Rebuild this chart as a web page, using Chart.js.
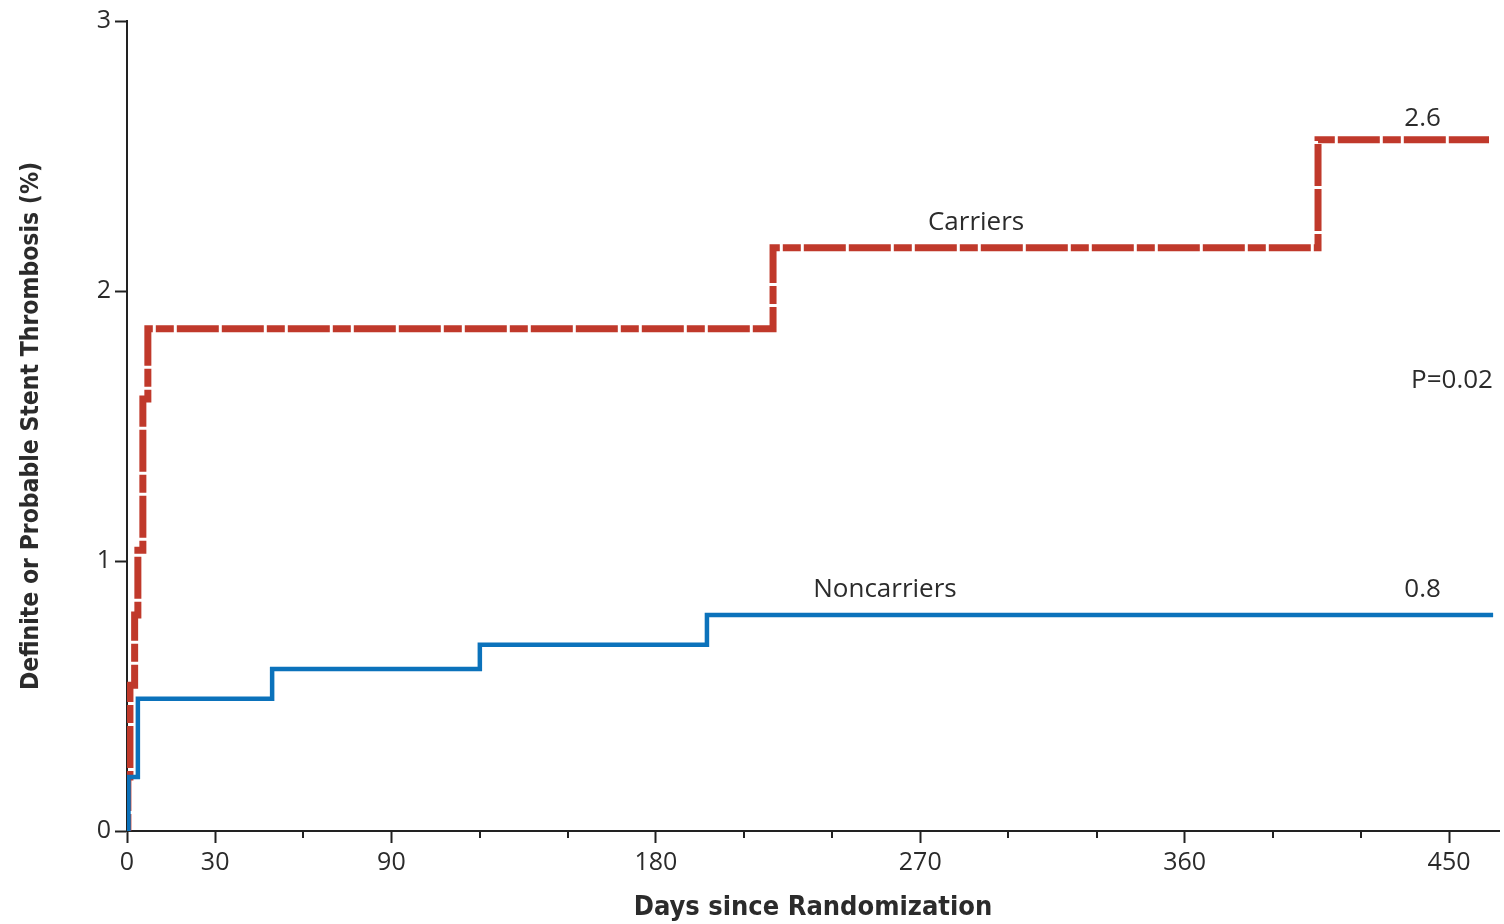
<!DOCTYPE html>
<html>
<head>
<meta charset="utf-8">
<title>Stent thrombosis by carrier status</title>
<script src="https://cdn.jsdelivr.net/npm/chart.js@4.4.1/dist/chart.umd.min.js"></script>
<style>
    html, body { margin: 0; padding: 0; background: #fff; }
    #wrap { width: 1504px; height: 924px; position: relative; }
</style>
</head>
<body>
<div id="wrap"><canvas id="graphStentThrombosis"></canvas></div>
<script>
// cumulative event rate (%), each point is the day a step happens and the new level
var carrierDays = [0, 0.3, 1, 2.6, 3.7, 5.4, 7.1, 219.9, 405.4, 463.6];
var carrierRates = [0, 0.2, 0.54, 0.8, 1.04, 1.6, 1.86, 2.16, 2.56, 2.56];
var noncarrierDays = [0, 0.5, 3.7, 49.4, 120.1, 197.4, 465];
var noncarrierRates = [0, 0.2, 0.49, 0.6, 0.69, 0.8, 0.8];

var dayTicks = [0, 30, 90, 180, 270, 360, 450];
var minorDayTicks = [60, 120, 150, 210, 240, 300, 330, 390, 420];
var rateTicks = [0, 1, 2, 3];

var axisColor = '#222';
var textColor = '#2b2b2b';
var carrierColor = '#c0392b';
var noncarrierColor = '#0b72bb';

function toPoints(days, rates) {
    return days.map(function (d, i) { return {x: d, y: rates[i]}; });
}

var lastCarrier = carrierRates[carrierRates.length - 1];
var lastNoncarrier = noncarrierRates[noncarrierRates.length - 1];

// text placed next to the curves, anchored on data values
var notes = [
    {text: 'Carriers', day: 289, rate: carrierRates[7], dy: -12},
    {text: 'Noncarriers', day: 258, rate: noncarrierRates[5], dy: -12},
    {text: lastCarrier.toFixed(1), day: 441, rate: lastCarrier, dy: -8},
    {text: lastNoncarrier.toFixed(1), day: 441, rate: lastNoncarrier, dy: -12},
    {text: 'P=0.02', day: 451, rate: 1.62, dy: 0}
];

var extras = {
    id: 'extras',
    afterDraw: function (chart) {
        var ctx = chart.ctx;
        var x = chart.scales.x;
        var y = chart.scales.y;
        ctx.save();
        // short unlabeled ticks every 30 days
        ctx.strokeStyle = axisColor;
        ctx.lineWidth = 2;
        minorDayTicks.forEach(function (d) {
            var px = Math.round(x.getPixelForValue(d));
            ctx.beginPath();
            ctx.moveTo(px, chart.chartArea.bottom);
            ctx.lineTo(px, chart.chartArea.bottom + 7);
            ctx.stroke();
        });
        ctx.fillStyle = textColor;
        ctx.font = '26px "Open Sans", "Noto Sans", sans-serif';
        ctx.textAlign = 'center';
        ctx.textBaseline = 'bottom';
        notes.forEach(function (n) {
            ctx.fillText(n.text, x.getPixelForValue(n.day), y.getPixelForValue(n.rate) + n.dy);
        });
        ctx.restore();
    }
};

var graphStentThrombosis = document.getElementById('graphStentThrombosis').getContext('2d');
new Chart(graphStentThrombosis, {
    type: 'line',
    data: {
        datasets: [
            {
                label: 'Noncarriers',
                data: toPoints(noncarrierDays, noncarrierRates),
                stepped: true,
                borderColor: noncarrierColor,
                borderWidth: 4.5,
                pointRadius: 0,
                fill: false
            },
            {
                label: 'Carriers',
                data: toPoints(carrierDays, carrierRates),
                stepped: true,
                borderColor: carrierColor,
                borderWidth: 7,
                borderDash: [18, 3, 42, 3, 42, 3, 18, 3, 42, 3],
                borderJoinStyle: 'miter',
                pointRadius: 0,
                fill: false
            }
        ]
    },
    options: {
        responsive: true,
        maintainAspectRatio: false,
        animation: false,
        layout: {
            padding: {left: 0, right: 5, top: 21, bottom: 0}
        },
        plugins: {
            legend: {display: false},
            tooltip: {enabled: false}
        },
        scales: {
            x: {
                type: 'linear',
                min: 0,
                max: 467,
                afterBuildTicks: function (scale) {
                    scale.ticks = dayTicks.map(function (v) { return {value: v}; });
                },
                afterFit: function (scale) { scale.height = 93; },
                border: {display: true, color: axisColor, width: 2},
                grid: {drawOnChartArea: false, drawTicks: true, tickLength: 12, tickColor: axisColor, tickWidth: 2},
                ticks: {
                    color: textColor,
                    padding: 5,
                    maxRotation: 0,
                    autoSkip: false,
                    font: {family: '"Open Sans", "Noto Sans", sans-serif', size: 25}
                },
                title: {
                    display: true,
                    text: 'Days since Randomization',
                    color: textColor,
                    padding: {top: 0, bottom: 0},
                    font: {family: '"DejaVu Sans Condensed", sans-serif', size: 27, weight: 'bold'}
                }
            },
            y: {
                type: 'linear',
                min: 0,
                max: 3,
                afterBuildTicks: function (scale) {
                    scale.ticks = rateTicks.map(function (v) { return {value: v}; });
                },
                afterFit: function (scale) { scale.width = 127; },
                border: {display: true, color: axisColor, width: 2},
                grid: {drawOnChartArea: false, drawTicks: true, tickLength: 12, tickColor: axisColor, tickWidth: 2},
                ticks: {
                    color: textColor,
                    padding: 4,
                    font: {family: '"Open Sans", "Noto Sans", sans-serif', size: 25}
                },
                title: {
                    display: true,
                    text: 'Definite or Probable Stent Thrombosis (%)',
                    color: textColor,
                    padding: {top: 17, bottom: 0},
                    font: {family: '"DejaVu Sans Condensed", sans-serif', size: 24.5, weight: 'bold'}
                }
            }
        }
    },
    plugins: [extras]
});
</script>
</body>
</html>
